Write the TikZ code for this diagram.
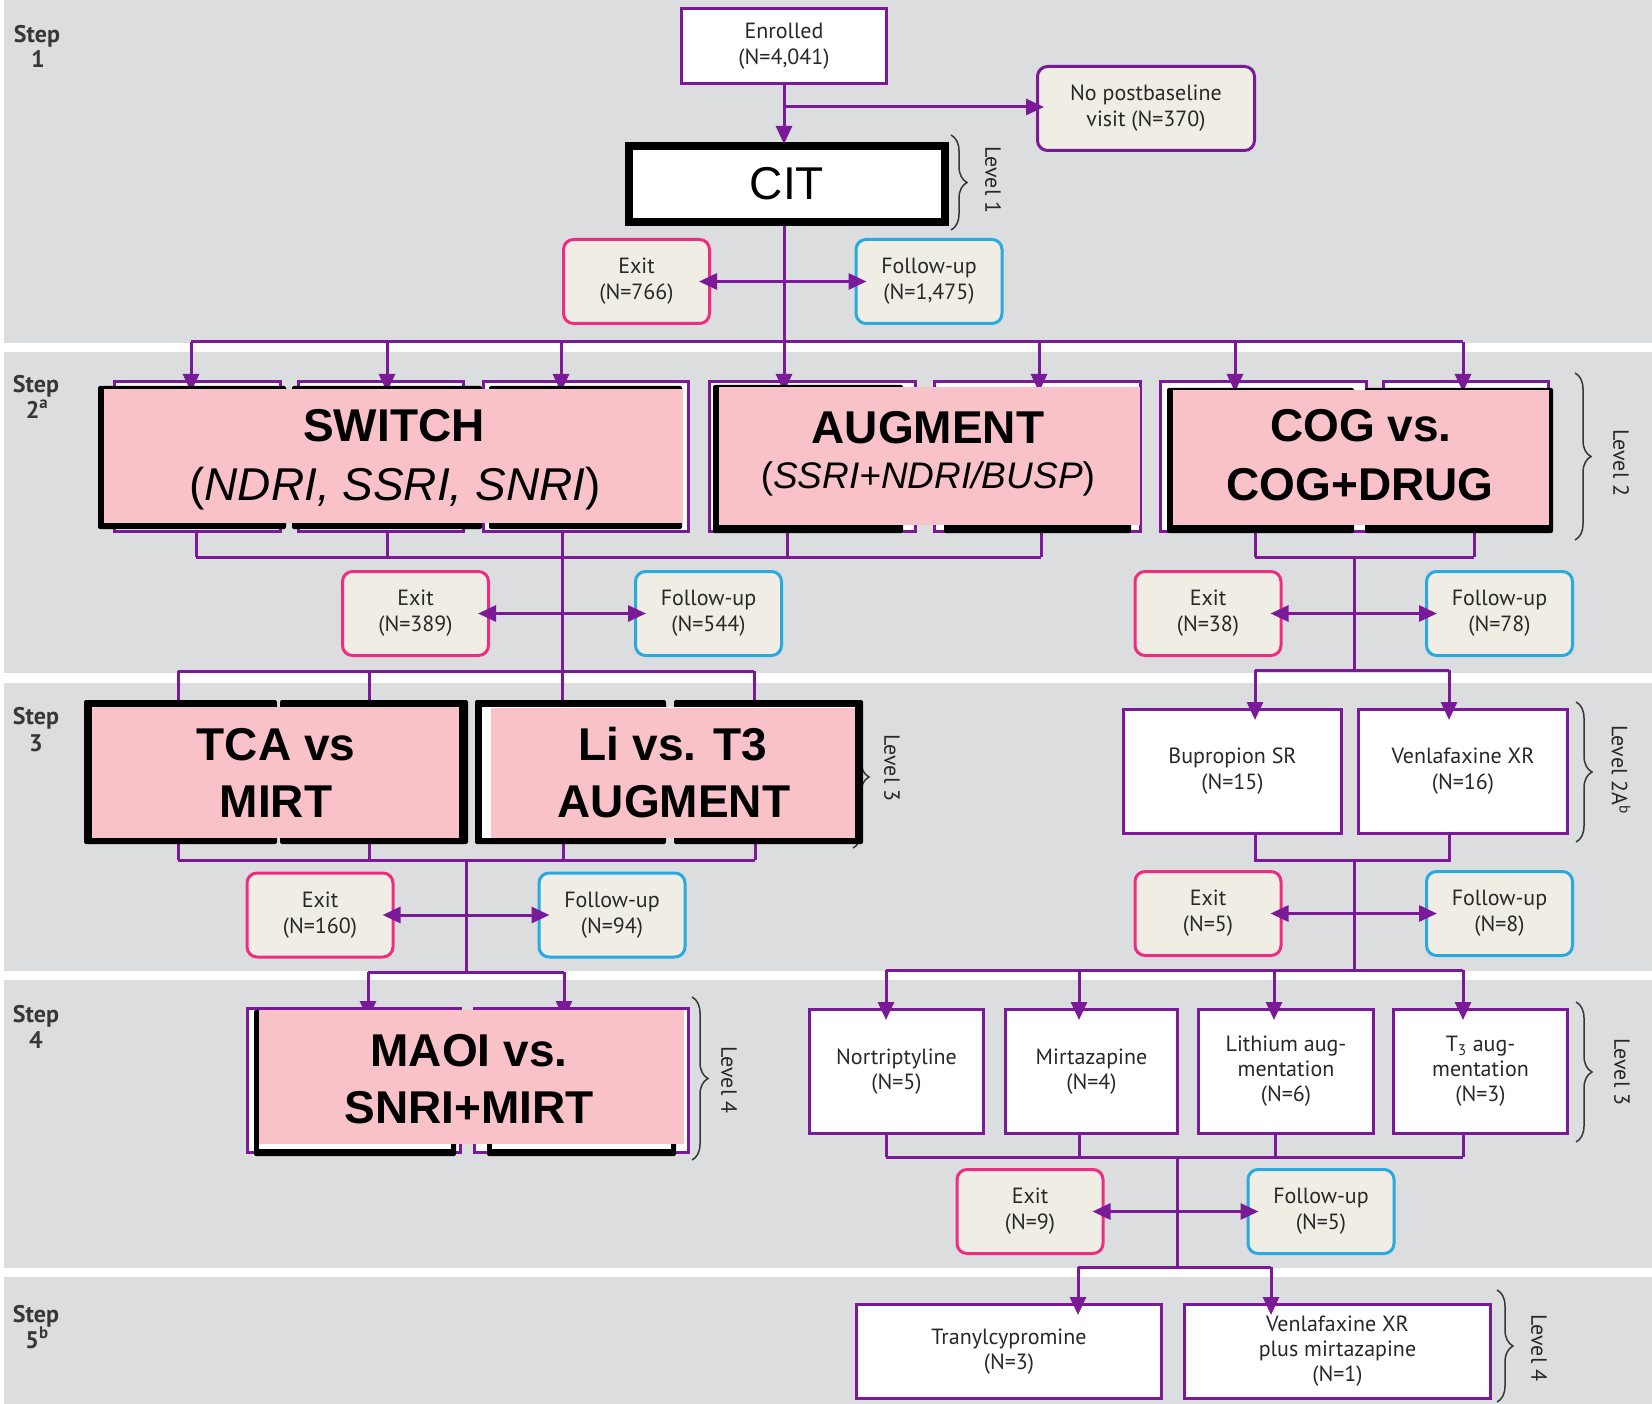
\documentclass[tikz,border=0pt]{standalone}
\usepackage{fontspec}
\setmainfont{PT Sans}
\newfontfamily\arialfont{Liberation Sans}
\usetikzlibrary{arrows.meta,decorations.pathreplacing}

\definecolor{bggray}{RGB}{220,221,223}
\definecolor{purp}{RGB}{122,26,152}
\definecolor{exitpink}{RGB}{238,45,130}
\definecolor{fublue}{RGB}{40,170,225}
\definecolor{beige}{RGB}{240,238,228}
\definecolor{pinkfill}{RGB}{249,193,200}
\definecolor{txt}{RGB}{40,40,40}
\definecolor{stepgray}{RGB}{55,55,55}

\newcommand\bxfont{\fontsize{22}{26}\selectfont}
\newcommand\bxfontb{\fontsize{22}{25}\selectfont}

\pgfdeclarelayer{bands}
\pgfdeclarelayer{over}
\pgfsetlayers{bands,main,over}

\tikzset{
  conn/.style={draw=purp, line width=3pt},
  arr/.style={conn, -{Triangle[length=18pt,width=16pt]}, shorten >=-12pt},
  dblarr/.style={conn, {Triangle[length=18pt,width=16pt]}-{Triangle[length=18pt,width=16pt]},
                 shorten >=-12pt, shorten <=-12pt},
  whitebox/.style={draw=purp, line width=3pt, fill=white, inner sep=0pt, align=center,
                   text=txt, font=\bxfont},
  exitbox/.style={draw=exitpink, line width=3pt, fill=beige, rounded corners=10pt,
                  minimum width=146pt, minimum height=84pt, inner sep=0pt, align=center,
                  text=txt, font=\bxfont},
  fubox/.style={exitbox, draw=fublue},
  pinkbox/.style={fill=pinkfill, inner sep=0pt, outer sep=0pt},
  bigbold/.style={font=\arialfont\bfseries\fontsize{46}{56}\selectfont, inner sep=0pt, anchor=base},
  bigital/.style={font=\arialfont\fontsize{46}{56}\selectfont, inner sep=0pt, anchor=base},
  steplbl/.style={font=\bfseries\fontsize{24}{28}\selectfont, text=stepgray, inner sep=0pt, anchor=base},
  lvlbrace/.style={draw=stepgray, line width=1.5pt, decorate, decoration={brace, amplitude=16pt}},
  lvltext/.style={font=\fontsize{22}{26}\selectfont, text=txt, rotate=-90, inner sep=0pt},
  blk/.style={fill=black, rounded corners=2pt},
}

\begin{document}
\begin{tikzpicture}[x=1pt, y=-1pt]
\useasboundingbox (0,0) rectangle (1652,1404);

% step bands
\begin{pgfonlayer}{bands}
  \fill[white] (0,0) rectangle (1652,1404);
  \fill[bggray] (4,0)    rectangle (1652,343);
  \fill[bggray] (4,352)  rectangle (1652,673);
  \fill[bggray] (4,683)  rectangle (1652,971);
  \fill[bggray] (4,980)  rectangle (1652,1268);
  \fill[bggray] (4,1277) rectangle (1652,1404);
\end{pgfonlayer}

% step labels
\node[steplbl] (st1)  at (37,43)   {Step};
\node[steplbl] (st1n) at (38,68)   {1};
\node[steplbl] (st2)  at (36,393)  {Step};
\node[steplbl] (st2n) at (37,418)  {2\textsuperscript{a}};
\node[steplbl] (st3)  at (36,724)  {Step};
\node[steplbl] (st3n) at (36,751)  {3};
\node[steplbl] (st4)  at (36,1022) {Step};
\node[steplbl] (st4n) at (36,1048) {4};
\node[steplbl] (st5)  at (36,1322) {Step};
\node[steplbl] (st5n) at (37,1348) {5\textsuperscript{b}};

% step 1
\node[whitebox, minimum width=205pt, minimum height=75pt] (enrolled) at (784,46) {Enrolled\\(N=4,041)};
\node[exitbox, draw=purp, minimum width=217pt, minimum height=84pt] (nopost) at (1146,108.5) {No postbaseline\\visit (N=370)};
\node[draw=black, line width=8pt, fill=white, minimum width=316pt, minimum height=76pt, inner sep=0pt,
      font=\arialfont\fontsize{46}{56}\selectfont] (cit) at (787,184) {CIT};
\node[exitbox] (ex1) at (636.5,281.5) {Exit\\(N=766)};
\node[fubox]   (fu1) at (929,281.5)   {Follow-up\\(N=1,475)};

% step 2 treatment cells
\foreach \n/\cx/\w in {a/197.5/166, b/381/165, c/586/205, d/812.5/206, e/1037.5/206, f/1263.5/206, g/1466/165}
  \node[whitebox, minimum width=\w pt, minimum height=150pt] (s2\n) at (\cx,456.5) {};
\node[exitbox] (ex2) at (415.5,613.5) {Exit\\(N=389)};
\node[fubox]   (fu2) at (708.5,613.5) {Follow-up\\(N=544)};
\node[exitbox] (ex3) at (1208,613.5)  {Exit\\(N=38)};
\node[fubox]   (fu3) at (1499.5,613.5){Follow-up\\(N=78)};

% step 3
\node[whitebox, minimum width=218pt, minimum height=124pt] (bup) at (1232.5,771.5) {Bupropion SR\\(N=15)};
\node[whitebox, minimum width=209pt, minimum height=124pt] (ven) at (1463,771.5)   {Venlafaxine XR\\(N=16)};
\node[exitbox] (ex4) at (320,915)     {Exit\\(N=160)};
\node[fubox]   (fu4) at (612,915)     {Follow-up\\(N=94)};
\node[exitbox] (ex5) at (1208,913.5)  {Exit\\(N=5)};
\node[fubox]   (fu5) at (1499.5,913.5){Follow-up\\(N=8)};

% step 4
\node[whitebox, minimum width=213pt, minimum height=144pt] (s4a) at (354,1080.5) {};
\node[whitebox, minimum width=214pt, minimum height=144pt] (s4b) at (581.5,1080.5) {};
\node[whitebox, font=\bxfontb, minimum width=174pt, minimum height=124pt] (nor) at (896.5,1071.5) {Nortriptyline\\(N=5)};
\node[whitebox, font=\bxfontb, minimum width=172pt, minimum height=124pt] (mir) at (1091.5,1071.5) {Mirtazapine\\(N=4)};
\node[whitebox, font=\bxfontb, minimum width=175pt, minimum height=124pt] (lit) at (1286,1071.5) {Lithium aug-\\mentation\\(N=6)};
\node[whitebox, font=\bxfontb, minimum width=174pt, minimum height=124pt] (tt) at (1480.5,1071.5) {T\textsubscript{3} aug-\\mentation\\(N=3)};
\node[exitbox] (ex6) at (1030,1211.5) {Exit\\(N=9)};
\node[fubox]   (fu6) at (1321,1211.5) {Follow-up\\(N=5)};

% step 5
\node[whitebox, font=\bxfontb, minimum width=305pt, minimum height=94pt] (tra) at (1009,1351.5) {Tranylcypromine\\(N=3)};
\node[whitebox, font=\bxfontb, minimum width=306pt, minimum height=94pt] (vm) at (1337.5,1351.5) {Venlafaxine XR\\plus mirtazapine\\(N=1)};

% highlighted strategy panels
\begin{pgfonlayer}{over}
  % SWITCH
  \fill[blk] (98,386) rectangle (286,529);
  \fill[blk] (292,386) rectangle (482,529);
  \fill[blk] (489,386) rectangle (682,529);
  \node[pinkbox, minimum width=579pt, minimum height=134pt] (switch) at (393.5,456) {};
  \node[bigbold] (switchA) at (394,442) {SWITCH};
  \node[bigital] (switchB) at (395,500) {(\textit{NDRI, SSRI, SNRI})};
  % AUGMENT
  \fill[blk] (713,385) rectangle (903,533);
  \fill[blk] (944,388) rectangle (1131,533);
  \node[pinkbox, minimum width=421pt, minimum height=138pt] (augment) at (929.5,456) {};
  \node[bigbold] (augA) at (928,443) {AUGMENT};
  \node[bigital, font=\arialfont\fontsize{37}{44}\selectfont] (augB) at (928,488) {(\textit{SSRI+NDRI/BUSP})};
  % COG
  \fill[blk] (1167,388) rectangle (1354,533);
  \fill[blk] (1365,388) rectangle (1553,533);
  \node[pinkbox, minimum width=376pt, minimum height=135pt] (cog) at (1361,457.5) {};
  \node[bigbold] (cogA) at (1361,442) {COG vs.};
  \node[bigbold] (cogB) at (1360,500) {COG+DRUG};
  % TCA vs MIRT
  \fill[blk] (84,700) rectangle (277,844);
  \fill[blk] (280,700) rectangle (468,844);
  \node[pinkbox, minimum width=367pt, minimum height=131pt] (tca) at (275.5,772.5) {};
  \node[bigbold] (tcaA) at (276,760) {TCA vs};
  \node[bigbold] (tcaB) at (276,817) {MIRT};
  % Li vs T3
  \fill[blk] (475,700) rectangle (666,844);
  \fill[blk] (674,700) rectangle (863,844);
  \fill[white] (482,707) rectangle (855,838);
  \node[pinkbox, minimum width=364pt, minimum height=130pt] (li) at (673,773) {};
  \node[bigbold] (liA) at (673,760) {Li vs. T3};
  \node[bigbold] (liB) at (674,817) {AUGMENT};
  % MAOI
  \fill[blk] (254,1010) rectangle (456,1156);
  \fill[white] (259,1010) rectangle (451,1149);
  \fill[blk] (487,1010) rectangle (676,1156);
  \fill[white] (492,1010) rectangle (671,1149);
  \node[pinkbox, minimum width=425pt, minimum height=134pt] (maoi) at (471.5,1077) {};
  \node[bigbold] (maoiA) at (469,1066) {MAOI vs.};
  \node[bigbold] (maoiB) at (469,1123) {SNRI+MIRT};
\end{pgfonlayer}

% ---- connectors ----
% step 1
\draw[arr, shorten >=-2pt] (enrolled) -- (enrolled.south |- cit.north);
\coordinate (np) at (784,107);
\draw[arr, shorten >=-8pt] (np) -- (np -| nopost.west);
\coordinate (bus2c) at (784,342);
\draw[conn] (enrolled.south |- cit.south) -- (bus2c);
\draw[dblarr] (ex1) -- (fu1);

% step 2 distribution
\coordinate (d2a) at (191,342);  \coordinate (d2b) at (387,342);
\coordinate (d2c) at (561,342);  \coordinate (d2d) at (784,342);
\coordinate (d2e) at (1039,342); \coordinate (d2f) at (1235,342);
\coordinate (d2g) at (1463,342);
\draw[conn] (d2a) -- (d2g);
\foreach \n in {a,b,c,d,e,f,g}
  \draw[arr] (d2\n) -- (d2\n |- s2\n.north);

% step 2 collection
\coordinate (u2a) at (196,557);  \coordinate (u2b) at (387,557);
\coordinate (u2c) at (562,557);  \coordinate (u2d) at (787,557);
\coordinate (u2e) at (1041,557); \coordinate (u2f) at (1255,557);
\coordinate (u2g) at (1474,557); \coordinate (u2m) at (1354,557);
\foreach \n in {a,b,c,d,e,f,g}
  \draw[conn] (u2\n |- s2\n.south) -- (u2\n);
\draw[conn] (u2a) -- (u2e);
\draw[conn] (u2f) -- (u2g);
\coordinate (b3c) at (562,671);
\coordinate (r3c) at (1354,670);
\draw[conn] (u2c) -- (b3c);
\draw[conn] (u2m) -- (r3c);
\draw[dblarr] (ex2) -- (fu2);
\draw[dblarr] (ex3) -- (fu3);

% step 3 distribution
\coordinate (d3a) at (178,671); \coordinate (d3b) at (369,671);
\coordinate (d3d) at (754,671);
\draw[conn] (d3a) -- (d3d);
\draw[arr] (d3a) -- (d3a |- tca.north);
\draw[arr] (d3b) -- (d3b |- tca.north);
\draw[arr] (b3c) -- (b3c |- li.north);
\draw[arr] (d3d) -- (d3d |- li.north);
\coordinate (d3e) at (1255,670); \coordinate (d3f) at (1449,670);
\draw[conn] (d3e) -- (d3f);
\draw[arr] (d3e) -- (d3e |- bup.north);
\draw[arr] (d3f) -- (d3f |- ven.north);

% step 3 collection
\coordinate (u3a) at (178,860); \coordinate (u3b) at (369,860);
\coordinate (u3c) at (563,860); \coordinate (u3d) at (755,860);
\coordinate (u3m) at (466,860);
\draw[conn] (u3a |- tca.south) -- (u3a);
\draw[conn] (u3b |- tca.south) -- (u3b);
\draw[conn] (u3c |- li.south) -- (u3c);
\draw[conn] (u3d |- li.south) -- (u3d);
\draw[conn] (u3a) -- (u3d);
\coordinate (b4c) at (466,972);
\draw[conn] (u3m) -- (b4c);
\draw[dblarr] (ex4) -- (fu4);
\coordinate (u3e) at (1255,860); \coordinate (u3f) at (1449,860);
\coordinate (u3n) at (1354,860);
\draw[conn] (u3e |- bup.south) -- (u3e) -- (u3f) -- (u3f |- ven.south);
\coordinate (r4c) at (1354,970);
\draw[conn] (u3n) -- (r4c);
\draw[dblarr] (ex5) -- (fu5);

% step 4 distribution
\coordinate (d4a) at (368,972); \coordinate (d4b) at (564,972);
\draw[conn] (d4a) -- (d4b);
\draw[arr] (d4a) -- (d4a |- s4a.north);
\draw[arr] (d4b) -- (d4b |- s4b.north);
\coordinate (d4c) at (886,970);  \coordinate (d4d) at (1079,970);
\coordinate (d4e) at (1274,970); \coordinate (d4f) at (1463,970);
\draw[conn] (d4c) -- (d4f);
\draw[arr] (d4c) -- (d4c |- nor.north);
\draw[arr] (d4d) -- (d4d |- mir.north);
\draw[arr] (d4e) -- (d4e |- lit.north);
\draw[arr] (d4f) -- (d4f |- tt.north);

% step 4 collection
\coordinate (u4c) at (886,1157);  \coordinate (u4d) at (1079,1157);
\coordinate (u4e) at (1275,1157); \coordinate (u4f) at (1463,1157);
\coordinate (u4m) at (1177,1157);
\draw[conn] (u4c |- nor.south) -- (u4c);
\draw[conn] (u4d |- mir.south) -- (u4d);
\draw[conn] (u4e |- lit.south) -- (u4e);
\draw[conn] (u4f |- tt.south) -- (u4f);
\draw[conn] (u4c) -- (u4f);
\coordinate (b5c) at (1177,1267);
\draw[conn] (u4m) -- (b5c);
\draw[dblarr] (ex6) -- (fu6);

% step 5 distribution
\coordinate (d5a) at (1078,1267); \coordinate (d5b) at (1271,1267);
\draw[conn] (d5a) -- (d5b);
\draw[arr] (d5a) -- (d5a |- tra.north);
\draw[arr] (d5b) -- (d5b |- vm.north);

% level braces
\draw[lvlbrace] (951,135) -- (951,230);
\node[lvltext] (lv1) at (993,180) {Level 1};
\draw[lvlbrace] (1575,373) -- (1575,540);
\node[lvltext] (lv2) at (1621,463) {Level 2};
\draw[lvlbrace] (853,706) -- (853,848);
\node[lvltext] (lv3a) at (892,768) {Level 3};
\draw[lvlbrace] (1576,702) -- (1576,842);
\node[lvltext] (lv2ab) at (1621,770) {Level 2A\textsuperscript{b}};
\draw[lvlbrace] (692,997) -- (692,1160);
\node[lvltext] (lv4a) at (729,1080) {Level 4};
\draw[lvlbrace] (1576,1002) -- (1576,1142);
\node[lvltext] (lv3b) at (1622,1072) {Level 3};
\draw[lvlbrace] (1497,1290) -- (1497,1402);
\node[lvltext] (lv4b) at (1539,1348) {Level 4};
\end{tikzpicture}
\end{document}
